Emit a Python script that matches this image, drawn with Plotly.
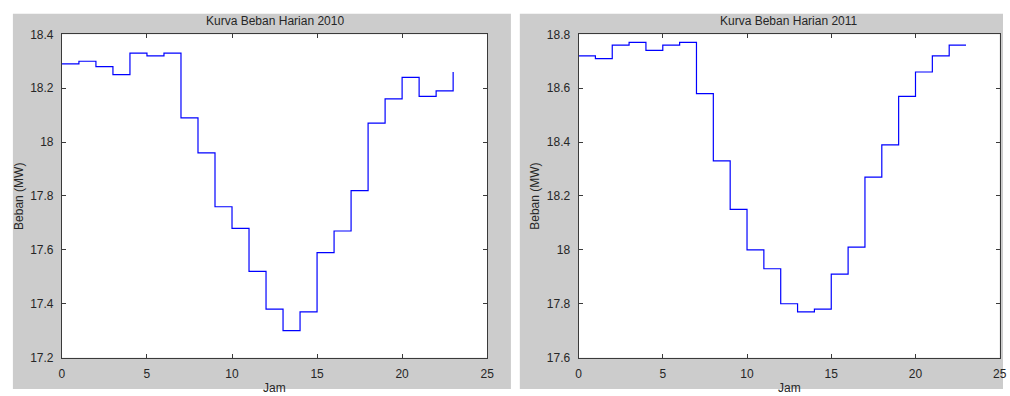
import plotly.graph_objects as go

W, H = 1010, 396

hours = list(range(24))
load_2010 = [18.29, 18.30, 18.28, 18.25, 18.33, 18.32, 18.33, 18.09, 17.96, 17.76,
             17.68, 17.52, 17.38, 17.30, 17.37, 17.59, 17.67, 17.82, 18.07, 18.16,
             18.24, 18.17, 18.19, 18.26]
load_2011 = [18.72, 18.71, 18.76, 18.77, 18.74, 18.76, 18.77, 18.58, 18.33, 18.15,
             18.00, 17.93, 17.80, 17.77, 17.78, 17.91, 18.01, 18.27, 18.39, 18.57,
             18.66, 18.72, 18.76, 18.76]
titles = ["Kurva Beban Harian 2010", "Kurva Beban Harian 2011"]
x_ticks = [0, 5, 10, 15, 20, 25]
y_ticks_2010 = [17.2, 17.4, 17.6, 17.8, 18.0, 18.2, 18.4]
y_ticks_2011 = [17.6, 17.8, 18.0, 18.2, 18.4, 18.6, 18.8]
x_label = "Jam"
y_label = "Beban (MW)"


def px(x):
    return x / W


def py(y):
    return 1 - y / H


fig = go.Figure()

fig.add_trace(go.Scatter(x=hours, y=load_2010, mode="lines", line_shape="hv",
                         line=dict(color="#0000ff", width=1.2), xaxis="x", yaxis="y",
                         showlegend=False, hoverinfo="x+y"))
fig.add_trace(go.Scatter(x=hours, y=load_2011, mode="lines", line_shape="hv",
                         line=dict(color="#0000ff", width=1.2), xaxis="x2", yaxis="y2",
                         showlegend=False, hoverinfo="x+y"))

tick_font = dict(family="Liberation Sans, Arial, sans-serif", size=12, color="#262626")
common_x = dict(range=[0, 25], tickvals=x_ticks, ticktext=[str(v) for v in x_ticks],
                showline=True, linecolor="#3a3a3a", linewidth=1, mirror="allticks",
                ticks="inside", ticklen=4, tickcolor="#3a3a3a", showgrid=False,
                zeroline=False, tickfont=tick_font, fixedrange=True, ticklabelstandoff=5)
common_y = dict(showline=True, linecolor="#3a3a3a", linewidth=1, mirror="allticks",
                ticks="inside", ticklen=4, tickcolor="#3a3a3a", showgrid=False,
                zeroline=False, tickfont=tick_font, fixedrange=True, ticklabelstandoff=5)

yd = [py(363.5), py(28.3)]
left_dom = [px(59.5), px(489)]
right_dom = [px(581.3), px(1006.7)]


def fmt(v):
    s = ("%.1f" % v)
    return s[:-2] if s.endswith(".0") else s


fig.update_layout(
    width=W, height=H,
    margin=dict(l=0, r=0, t=0, b=0),
    paper_bgcolor="white",
    plot_bgcolor="white",
    xaxis=dict(domain=left_dom, anchor="y", **common_x),
    yaxis=dict(domain=yd, anchor="x", range=[17.2, 18.4], tickvals=y_ticks_2010,
               ticktext=[fmt(v) for v in y_ticks_2010], **common_y),
    xaxis2=dict(domain=right_dom, anchor="y2", **common_x),
    yaxis2=dict(domain=yd, anchor="x2", range=[17.6, 18.8], tickvals=y_ticks_2011,
                ticktext=[fmt(v) for v in y_ticks_2011], **common_y),
)

# gray figure backgrounds
for x0, x1 in [(10, 513), (522, 1010)]:
    fig.add_shape(type="rect", xref="paper", yref="paper", x0=px(x0), x1=px(x1),
                  y0=0, y1=py(7), fillcolor="#cccccc", line=dict(width=0), layer="below")
# white plot areas on top of the gray
for dom in [left_dom, right_dom]:
    fig.add_shape(type="rect", xref="paper", yref="paper", x0=dom[0], x1=dom[1],
                  y0=yd[0], y1=yd[1], fillcolor="white", line=dict(width=0), layer="below")

text_font = dict(family="Liberation Sans, Arial, sans-serif", size=12, color="#262626")
for i, dom in enumerate([left_dom, right_dom]):
    cx = (dom[0] + dom[1]) / 2
    fig.add_annotation(text=titles[i], xref="paper", yref="paper", x=cx, y=py(14),
                       xanchor="center", yanchor="middle", showarrow=False, font=text_font)
    fig.add_annotation(text=x_label, xref="paper", yref="paper", x=cx, y=py(386),
                       xanchor="center", yanchor="top", showarrow=False, font=text_font)
    ylx = 16 if i == 0 else 537
    fig.add_annotation(text=y_label, xref="paper", yref="paper", x=px(ylx), y=py(196),
                       xanchor="center", yanchor="middle", textangle=-90,
                       showarrow=False, font=text_font)

fig.write_html("out.html")
